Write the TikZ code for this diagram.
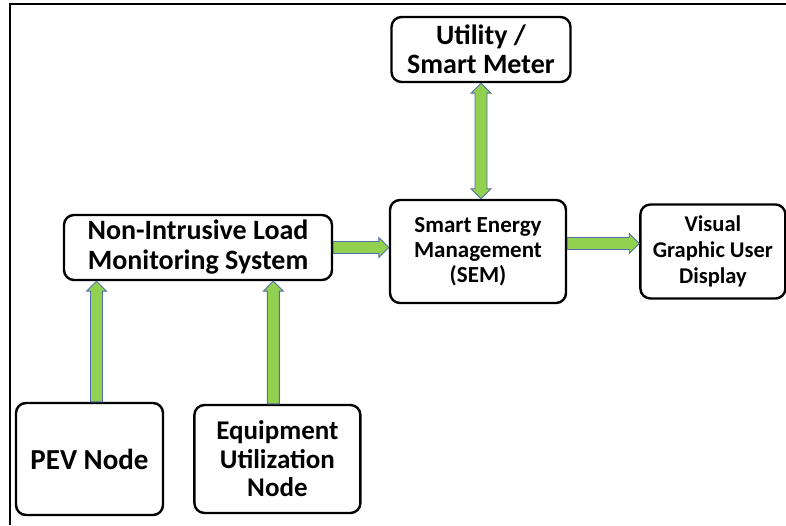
\documentclass[tikz,border=0pt]{standalone}
\usepackage{fontspec}
\setmainfont{Carlito}
\usetikzlibrary{positioning,calc}
\definecolor{arrowgreen}{HTML}{92D050}
\definecolor{arrowblue}{HTML}{4F6FA8}
\def \tu {1pt}

\tikzset{
  block/.style={draw, line width=2.4pt, rounded corners=10pt, align=center,
    font=\bfseries, inner sep=2pt},
  fat/.style={draw=arrowblue, fill=arrowgreen, line width=0.9pt,
    to path={($(\tikztostart)!6pt!90:(\tikztotarget)$)
      -- ($(\tikztotarget)!10pt!(\tikztostart)!6pt!90:(\tikztotarget)$)
      -- ($(\tikztotarget)!10pt!(\tikztostart)!10pt!90:(\tikztotarget)$)
      -- (\tikztotarget)
      -- ($(\tikztotarget)!10pt!(\tikztostart)!10pt!-90:(\tikztotarget)$)
      -- ($(\tikztotarget)!10pt!(\tikztostart)!6pt!-90:(\tikztotarget)$)
      -- ($(\tikztostart)!6pt!-90:(\tikztotarget)$) -- cycle}},
  fatboth/.style={draw=arrowblue, fill=arrowgreen, line width=0.9pt,
    to path={(\tikztostart)
      -- ($(\tikztostart)!10pt!(\tikztotarget)!10pt!90:(\tikztotarget)$)
      -- ($(\tikztostart)!10pt!(\tikztotarget)!6pt!90:(\tikztotarget)$)
      -- ($(\tikztotarget)!10pt!(\tikztostart)!6pt!90:(\tikztotarget)$)
      -- ($(\tikztotarget)!10pt!(\tikztostart)!10pt!90:(\tikztotarget)$)
      -- (\tikztotarget)
      -- ($(\tikztotarget)!10pt!(\tikztostart)!10pt!-90:(\tikztotarget)$)
      -- ($(\tikztotarget)!10pt!(\tikztostart)!6pt!-90:(\tikztotarget)$)
      -- ($(\tikztostart)!10pt!(\tikztotarget)!6pt!-90:(\tikztotarget)$)
      -- ($(\tikztostart)!10pt!(\tikztotarget)!10pt!-90:(\tikztotarget)$)
      -- cycle}}
}

\begin{document}
\begin{tikzpicture}[x=\tu,y=\tu,node distance=30*\tu]
  \useasboundingbox (0,0) rectangle (786,525);
  \draw[line width=1.4pt] (10,0) -- (10,521) -- (786,521);

  \node[block, minimum width=176*\tu, minimum height=103*\tu,
    font=\bfseries\fontsize{23}{25}\selectfont] (sem) at (478,273.5)
    {Smart Energy\\Management\\(SEM)};
  \node[block, minimum width=179*\tu, minimum height=65*\tu,
    font=\bfseries\fontsize{28}{29}\selectfont] (util) at (481,475.5)
    {Utility /\\Smart Meter};
  \node[block, minimum width=145*\tu, minimum height=94*\tu,
    font=\bfseries\fontsize{22.5}{26}\selectfont, right=72*\tu of sem] (vis)
    {Visual\\Graphic User\\Display};
  \node[block, minimum width=268*\tu, minimum height=65*\tu,
    font=\bfseries\fontsize{28}{30}\selectfont] (nilm) at (198,277.5)
    {Non-Intrusive Load\\Monitoring System};
  \node[block, minimum width=147*\tu, minimum height=112*\tu,
    font=\bfseries\fontsize{29}{30}\selectfont] (pev) at (89.5,66)
    {PEV Node};
  \node[block, minimum width=166*\tu, minimum height=108*\tu,
    font=\bfseries\fontsize{27}{28.5}\selectfont, right=29*\tu of pev] (equip)
    {Equipment\\Utilization\\Node};

  % connectors
  \path[fatboth] (util.south) to (util.south |- sem.north);
  \path[fat] (nilm.east) to (nilm.east -| sem.west);
  \path[fat] ([yshift=8*\tu]sem.east) to ([yshift=8*\tu]sem.east -| vis.west);
  \path[fat] ([xshift=7*\tu]pev.north) to ([xshift=7*\tu]pev.north |- nilm.south);
  \path[fat] ([xshift=-4*\tu]equip.north) to ([xshift=-4*\tu]equip.north |- nilm.south);
\end{tikzpicture}
\end{document}
